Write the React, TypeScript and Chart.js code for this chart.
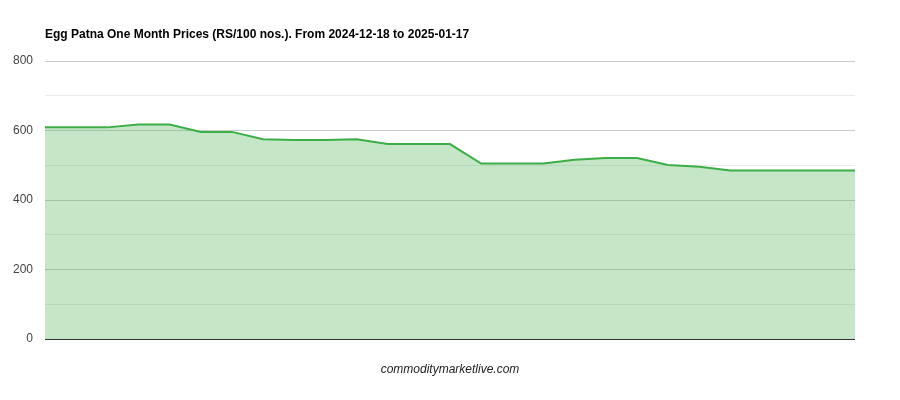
import { useEffect, useRef } from 'react';
import { Chart, registerables } from 'chart.js';

Chart.register(...registerables);

// Trading days (Sundays skipped)
const dates = [
  '2024-12-18', '2024-12-19', '2024-12-20', '2024-12-21', '2024-12-23',
  '2024-12-24', '2024-12-25', '2024-12-26', '2024-12-27', '2024-12-28',
  '2024-12-30', '2024-12-31', '2025-01-01', '2025-01-02', '2025-01-03',
  '2025-01-04', '2025-01-06', '2025-01-07', '2025-01-08', '2025-01-09',
  '2025-01-10', '2025-01-11', '2025-01-13', '2025-01-14', '2025-01-15',
  '2025-01-16', '2025-01-17',
];

const prices = [
  609, 609, 609, 617, 617, 596, 596, 575, 573, 573,
  575, 561, 561, 561, 505, 505, 505, 516, 521, 521,
  501, 496, 485, 485, 485, 485, 485,
];

const yTicks = [0, 200, 400, 600, 800];

const TITLE = 'Egg Patna One Month Prices (RS/100 nos.). From 2024-12-18 to 2025-01-17';
const FOOTER = 'commoditymarketlive.com';

const textPlugin = {
  id: 'textPlugin',
  afterDraw(chart: Chart) {
    const { ctx, chartArea } = chart;
    ctx.save();
    ctx.textBaseline = 'middle';
    ctx.fillStyle = '#000';
    ctx.font = 'bold 12px Arial, "Liberation Sans", sans-serif';
    ctx.textAlign = 'left';
    ctx.fillText(TITLE, chartArea.left, 35);
    ctx.fillStyle = '#222';
    ctx.font = 'italic 12px Arial, "Liberation Sans", sans-serif';
    ctx.textAlign = 'center';
    ctx.fillText(FOOTER, (chartArea.left + chartArea.right) / 2, 370);
    ctx.restore();
  },
};

export default function App() {
  const chartRef = useRef<HTMLCanvasElement>(null);
  const chartInstance = useRef<Chart | null>(null);

  useEffect(() => {
    if (!chartRef.current) return;
    if (chartInstance.current) chartInstance.current.destroy();
    const ctx = chartRef.current.getContext('2d');
    if (!ctx) return;

    chartInstance.current = new Chart(ctx, {
      type: 'line',
      data: {
        labels: dates,
        datasets: [
          {
            data: prices,
            borderColor: '#3cae48',
            backgroundColor: 'rgba(62, 175, 72, 0.3)',
            fill: 'origin',
            tension: 0,
            pointRadius: 0,
            borderWidth: 2,
          },
        ],
      },
      options: {
        responsive: false,
        animation: false,
        layout: { padding: { top: 61, right: 45, bottom: 61, left: 0 } },
        plugins: {
          legend: { display: false },
          title: { display: false },
          tooltip: { enabled: false },
        },
        scales: {
          x: {
            type: 'category',
            display: false,
            offset: false,
          },
          y: {
            min: 0,
            max: 800,
            afterFit: (scale) => {
              scale.width = 45;
            },
            border: { display: false },
            grid: {
              drawTicks: false,
              tickLength: 0,
              color: (c) => {
                const v = c.tick.value;
                if (v === 0) return '#333';
                return yTicks.includes(v) ? '#cccccc' : '#ebebeb';
              },
            },
            ticks: {
              stepSize: 100,
              autoSkip: false,
              padding: 12,
              color: '#444',
              font: { family: 'Arial, "Liberation Sans", sans-serif', size: 12 },
              callback: (v) => (yTicks.includes(Number(v)) ? String(v) : ''),
            },
          },
        },
      },
      plugins: [textPlugin],
    });

    return () => {
      if (chartInstance.current) {
        chartInstance.current.destroy();
        chartInstance.current = null;
      }
    };
  }, []);

  return (
    <div style={{ position: 'absolute', left: 0, top: 0, width: 900, height: 400, background: '#fff' }}>
      <canvas ref={chartRef} width={900} height={400} />
    </div>
  );
}
